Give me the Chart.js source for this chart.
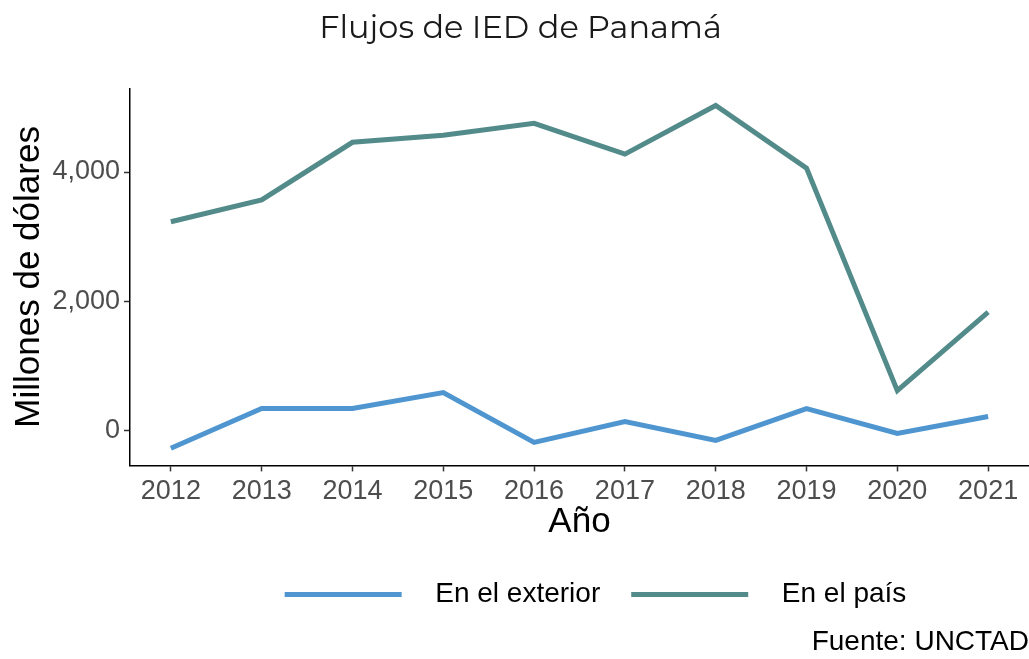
<!DOCTYPE html>
<html>
<head>
<meta charset="utf-8">
<script src="https://cdn.jsdelivr.net/npm/chart.js"></script>
<style>
  body { margin: 0; background: #fff; }
  #wrap { width: 1029px; height: 659px; }
</style>
</head>
<body>
<div id="wrap"><canvas id="chart"></canvas></div>
<script>
const years = [2012, 2013, 2014, 2015, 2016, 2017, 2018, 2019, 2020, 2021];
const exterior = [-277, 338, 338, 585, -185, 138, -154, 338, -46, 215];
const pais = [3230, 3569, 4461, 4569, 4754, 4277, 5030, 4061, 615, 1831];
const yTicks = [0, 2000, 4000];

const blue = '#4F96D1';
const green = '#528B8A';
const sans = "'Liberation Sans', Arial, sans-serif";

function pts(vals) {
    return years.map((y, i) => ({x: y, y: vals[i]}));
}

// nudge legend and title the way ggplot places them
const shiftBoxes = {
    id: 'shiftBoxes',
    afterLayout(chart) {
        chart.legend.left += 81;
        chart.legend.right += 81;
        chart.titleBlock.left += 6;
        chart.titleBlock.right += 6;
    }
};

new Chart(document.getElementById('chart'), {
    type: 'line',
    data: {
        datasets: [{
            label: 'En el exterior',
            data: pts(exterior),
            borderColor: blue,
            backgroundColor: blue,
            borderWidth: 5,
            pointRadius: 0,
            tension: 0
        }, {
            label: 'En el país',
            data: pts(pais),
            borderColor: green,
            backgroundColor: green,
            borderWidth: 5,
            pointRadius: 0,
            tension: 0
        }]
    },
    plugins: [shiftBoxes],
    options: {
        responsive: true,
        maintainAspectRatio: false,
        animation: false,
        layout: { padding: { left: 0, right: 0, top: 0, bottom: 0 } },
        plugins: {
            title: {
                display: true,
                text: 'Flujos de IED de Panamá',
                color: '#1a1a1a',
                font: { family: "Montserrat, 'Open Sans', sans-serif", size: 32, weight: 'normal' },
                padding: { top: 9, bottom: 41 }
            },
            subtitle: {
                display: true,
                position: 'bottom',
                align: 'end',
                text: 'Fuente: UNCTAD',
                color: '#000',
                font: { family: sans, size: 28 },
                padding: { top: 7, bottom: 0 }
            },
            legend: {
                position: 'bottom',
                labels: {
                    color: '#000',
                    font: { family: sans, size: 28 },
                    boxWidth: 117,
                    boxHeight: 5,
                    padding: 31,
                    generateLabels(chart) {
                        return chart.data.datasets.map((ds, i) => ({
                            text: '\u2002\u2009' + ds.label,
                            fillStyle: ds.borderColor,
                            strokeStyle: ds.borderColor,
                            lineWidth: 0,
                            hidden: false,
                            datasetIndex: i,
                            fontColor: '#000'
                        }));
                    }
                }
            },
            tooltip: { enabled: false }
        },
        scales: {
            x: {
                type: 'linear',
                min: 2011.55,
                max: 2021.45,
                afterBuildTicks(scale) {
                    scale.ticks = years.map(v => ({value: v}));
                },
                afterFit(scale) { scale.height = 84; },
                grid: { drawOnChartArea: false, drawTicks: true, tickLength: 6, color: '#333', tickWidth: 1.5 },
                border: { display: true, color: '#000', width: 1.5 },
                ticks: {
                    color: '#4D4D4D',
                    font: { family: sans, size: 27 },
                    padding: 4,
                    callback: v => String(v)
                },
                title: {
                    display: true,
                    text: 'Año',
                    color: '#000',
                    font: { family: sans, size: 35 },
                    padding: { top: 0, bottom: 6 }
                }
            },
            y: {
                min: -542,
                max: 5295,
                afterBuildTicks(scale) {
                    scale.ticks = yTicks.map(v => ({value: v}));
                },
                afterFit(scale) { scale.width = 130; },
                grid: { drawOnChartArea: false, drawTicks: true, tickLength: 6, color: '#333', tickWidth: 1.5 },
                border: { display: true, color: '#000', width: 1.5 },
                ticks: {
                    color: '#4D4D4D',
                    font: { family: sans, size: 27 },
                    padding: 4,
                    callback: v => v.toLocaleString('en-US')
                },
                title: {
                    display: true,
                    text: 'Millones de dólares',
                    color: '#000',
                    font: { family: sans, size: 35 },
                    padding: { top: 8, bottom: 0 }
                }
            }
        }
    }
});
</script>
</body>
</html>
